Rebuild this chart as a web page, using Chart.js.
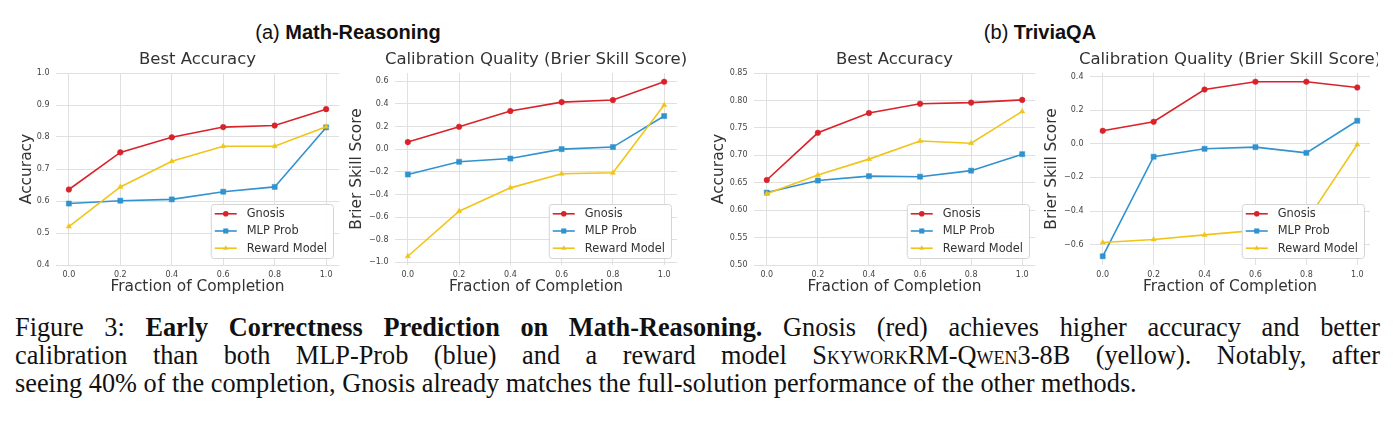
<!DOCTYPE html>
<html>
<head>
<meta charset="utf-8">
<title>Early Correctness Prediction</title>
<script src="https://cdn.jsdelivr.net/npm/chart.js@4"></script>
<style>
  body { margin: 0; background: #fff; width: 1399px; height: 432px; overflow: hidden; position: relative; }
  #fig { position: absolute; left: 0; top: 0; width: 1378px; height: 310px; overflow: hidden; }
  #fig canvas { position: absolute; }
  .hdr { position: absolute; top: 20px; line-height: 24px; font-family: "Liberation Sans", Arial, sans-serif; font-size: 20px; color: #111; transform: translateX(-50%); white-space: nowrap; }
  .cap { position: absolute; left: 15px; width: 1365px; font-family: "Liberation Serif", "Times New Roman", serif; font-size: 26.3px; line-height: 28px; color: #111; text-align: justify; text-align-last: justify; white-space: nowrap; }
  .cap.last { text-align: left; text-align-last: left; }
  .sc { font-variant: small-caps; }
</style>
</head>
<body>
<div id="fig">
  <div class="hdr" style="left:348px">(a) <b>Math-Reasoning</b></div>
  <div class="hdr" style="left:1040px">(b) <b>TriviaQA</b></div>
  <canvas id="mathAcc"></canvas>
  <canvas id="mathBss"></canvas>
  <canvas id="triviaAcc"></canvas>
  <canvas id="triviaBss"></canvas>
</div>
<div class="cap" style="top:314px">Figure 3: <b>Early Correctness Prediction on Math-Reasoning.</b> Gnosis (red) achieves higher accuracy and better</div>
<div class="cap" style="top:342px">calibration than both MLP-Prob (blue) and a reward model <span class="sc">Skywork</span>RM-Q<span class="sc">wen</span>3-8B (yellow). Notably, after</div>
<div class="cap last" style="top:370px">seeing 40% of the completion, Gnosis already matches the full-solution performance of the other methods.</div>

<script>
// fraction of completion (x) and series names
const fractions = [0.0, 0.2, 0.4, 0.6, 0.8, 1.0];
const seriesNames = ["Gnosis", "MLP Prob", "Reward Model"];

// (a) Math-Reasoning: best accuracy
const mathAccGnosis = [0.636, 0.752, 0.799, 0.831, 0.836, 0.887];
const mathAccMlp = [0.592, 0.601, 0.605, 0.629, 0.644, 0.830];
const mathAccReward = [0.520, 0.644, 0.724, 0.771, 0.771, 0.832];

// (a) Math-Reasoning: brier skill score
const mathBssGnosis = [0.062, 0.197, 0.336, 0.415, 0.433, 0.595];
const mathBssMlp = [-0.224, -0.112, -0.083, 0.0, 0.018, 0.292];
const mathBssReward = [-0.946, -0.548, -0.342, -0.218, -0.209, 0.389];

// (b) TriviaQA: best accuracy
const triviaAccGnosis = [0.655, 0.741, 0.777, 0.794, 0.796, 0.801];
const triviaAccMlp = [0.632, 0.654, 0.662, 0.661, 0.672, 0.702];
const triviaAccReward = [0.630, 0.664, 0.693, 0.726, 0.722, 0.780];

// (b) TriviaQA: brier skill score (reward model partly hidden by legend, 0.6/0.8 estimated)
const triviaBssGnosis = [0.077, 0.131, 0.323, 0.369, 0.369, 0.335];
const triviaBssMlp = [-0.669, -0.077, -0.030, -0.020, -0.054, 0.137];
const triviaBssReward = [-0.587, -0.569, -0.542, -0.515, -0.460, -0.004];

// tick labels
const xTicks = [0.0, 0.2, 0.4, 0.6, 0.8, 1.0];
const mathAccTicks = [0.4, 0.5, 0.6, 0.7, 0.8, 0.9, 1.0];
const mathBssTicks = [-1.0, -0.8, -0.6, -0.4, -0.2, 0.0, 0.2, 0.4, 0.6];
const triviaAccTicks = [0.50, 0.55, 0.60, 0.65, 0.70, 0.75, 0.80, 0.85];
const triviaBssTicks = [-0.6, -0.4, -0.2, 0.0, 0.2, 0.4];

const colors = ["#d8232a", "#3192cf", "#f0c419"];
const pointStyles = ["circle", "rect", "triangle"];
const pointRadii = [2.8, 3.6, 3];
const gridColor = "#e0e0e0";
const canvasTop = 35;
const canvasH = 270;
const plotBottom = 265;

Chart.defaults.font.family = "'DejaVu Sans', sans-serif";

const fmt = (d) => (v) => {
  const a = Math.abs(v) < 1e-9 ? 0 : v;
  return (a < 0 ? "\u2212" : "") + Math.abs(a).toFixed(d);
};

// matplotlib style autoscale (5% margin)
const autoRange = (arrs) => {
  const all = arrs.flat();
  const lo = Math.min(...all), hi = Math.max(...all);
  const m = (hi - lo) * 0.05;
  return [lo - m, hi + m];
};

const drawMarker = (ctx, style, r, x, y) => {
  ctx.beginPath();
  if (style === "rect") {
    const s = Math.SQRT1_2 * r;
    ctx.rect(x - s, y - s, 2 * s, 2 * s);
  } else if (style === "triangle") {
    ctx.moveTo(x, y - r);
    ctx.lineTo(x + r * 0.866, y + r * 0.5);
    ctx.lineTo(x - r * 0.866, y + r * 0.5);
    ctx.closePath();
  } else {
    ctx.arc(x, y, r, 0, Math.PI * 2);
  }
  ctx.fill();
};

// center the title over the plot area, not the whole canvas
const centerTitle = {
  id: "centerTitle",
  afterLayout(chart) {
    const t = chart.titleBlock;
    if (!t) return;
    const c = (chart.chartArea.left + chart.chartArea.right) / 2;
    t.left = c - chart.width;
    t.right = c + chart.width;
  },
};

// legend drawn inside the plot, lower right
const insideLegend = {
  id: "insideLegend",
  afterDatasetsDraw(chart) {
    const { ctx, chartArea } = chart;
    const items = chart.data.datasets.slice().sort((a, b) => b.order - a.order);
    ctx.save();
    ctx.font = "11.4px 'DejaVu Sans'";
    const textW = Math.max(...items.map((d) => ctx.measureText(d.label).width));
    const w = 4 + 22 + 10 + textW + 6;
    const h = 54;
    const x = chartArea.right - 6 - w;
    const y = chartArea.bottom - 7 - h;
    ctx.beginPath();
    ctx.roundRect(x + 0.5, y + 0.5, w, h, 3);
    ctx.fillStyle = "rgba(255,255,255,0.92)";
    ctx.fill();
    ctx.strokeStyle = "#d4d4d4";
    ctx.lineWidth = 1;
    ctx.stroke();
    items.forEach((d, i) => {
      const cy = y + 9.8 + i * 17.2;
      ctx.strokeStyle = d.borderColor;
      ctx.lineWidth = d.borderWidth;
      ctx.beginPath();
      ctx.moveTo(x + 4, cy);
      ctx.lineTo(x + 26, cy);
      ctx.stroke();
      ctx.fillStyle = d.borderColor;
      drawMarker(ctx, d.pointStyle, d.pointRadius, x + 15, cy);
      ctx.fillStyle = "#333";
      ctx.textBaseline = "middle";
      ctx.textAlign = "left";
      ctx.fillText(d.label, x + 36, cy + 0.5);
    });
    ctx.restore();
  },
};

const makeChart = (id, geo, title, yTitle, yRange, yTicks, decimals, series) => {
  const canvas = document.getElementById(id);
  const L = Math.round(geo.yTitleX - 14);
  const W = Math.round(2 * ((geo.left + geo.right) / 2 - L));
  canvas.width = W;
  canvas.height = canvasH;
  canvas.style.left = L + "px";
  canvas.style.top = canvasTop + "px";

  new Chart(canvas, {
    type: "line",
    data: {
      datasets: series.map((s, i) => ({
        label: seriesNames[i],
        data: fractions.map((x, j) => ({ x, y: s[j] })),
        borderColor: colors[i],
        backgroundColor: colors[i],
        pointBackgroundColor: colors[i],
        pointBorderColor: colors[i],
        pointBorderWidth: 0.5,
        pointStyle: pointStyles[i],
        pointRadius: pointRadii[i],
        borderWidth: 1.6,
        tension: 0,
        order: 3 - i,
      })),
    },
    options: {
      responsive: false,
      animation: false,
      layout: { padding: { left: 0, top: 0, bottom: 0, right: W - (geo.right - L) } },
      plugins: {
        legend: { display: false },
        tooltip: { enabled: false },
        title: {
          display: true,
          text: title,
          color: "#333",
          font: { size: 16.5, weight: "normal" },
          padding: { top: 15.1, bottom: 3.1 },
        },
      },
      scales: {
        x: {
          type: "linear",
          min: -0.05,
          max: 1.05,
          afterBuildTicks: (s) => { s.ticks = xTicks.map((v) => ({ value: v })); },
          afterFit: (s) => { s.height = canvasTop + canvasH - plotBottom; },
          ticks: { callback: fmt(1), color: "#444", font: { size: 8 }, padding: 5, maxRotation: 0, autoSkip: false },
          grid: { color: gridColor, lineWidth: 1, drawTicks: false },
          border: { display: false },
          title: { display: true, text: "Fraction of Completion", color: "#333", font: { size: 15.4 }, padding: { top: 0, bottom: 8.8 } },
        },
        y: {
          type: "linear",
          min: yRange[0],
          max: yRange[1],
          afterBuildTicks: (s) => { s.ticks = yTicks.map((v) => ({ value: v })); },
          afterFit: (s) => { s.width = geo.left - L; },
          ticks: { callback: fmt(decimals), color: "#444", font: { size: 8 }, padding: 6.5, autoSkip: false },
          grid: { color: gridColor, lineWidth: 1, drawTicks: false },
          border: { display: false },
          title: { display: true, text: yTitle, color: "#333", font: { size: 15.4 }, padding: { top: geo.yTitleX - L - 9.24, bottom: 0 } },
        },
      },
    },
    plugins: [centerTitle, insideLegend],
  });
};

makeChart("mathAcc", { left: 56, right: 339, yTitleX: 26.7 }, "Best Accuracy", "Accuracy",
  [0.4, 1.0], mathAccTicks, 1, [mathAccGnosis, mathAccMlp, mathAccReward]);

makeChart("mathBss", { left: 395, right: 677, yTitleX: 356.7 }, "Calibration Quality (Brier Skill Score)", "Brier Skill Score",
  autoRange([mathBssGnosis, mathBssMlp, mathBssReward]), mathBssTicks, 1, [mathBssGnosis, mathBssMlp, mathBssReward]);

makeChart("triviaAcc", { left: 754, right: 1035, yTitleX: 719.3 }, "Best Accuracy", "Accuracy",
  [0.5, 0.85], triviaAccTicks, 2, [triviaAccGnosis, triviaAccMlp, triviaAccReward]);

makeChart("triviaBss", { left: 1090, right: 1370, yTitleX: 1051.7 }, "Calibration Quality (Brier Skill Score)", "Brier Skill Score",
  autoRange([triviaBssGnosis, triviaBssMlp, triviaBssReward]), triviaBssTicks, 1, [triviaBssGnosis, triviaBssMlp, triviaBssReward]);
</script>
</body>
</html>
